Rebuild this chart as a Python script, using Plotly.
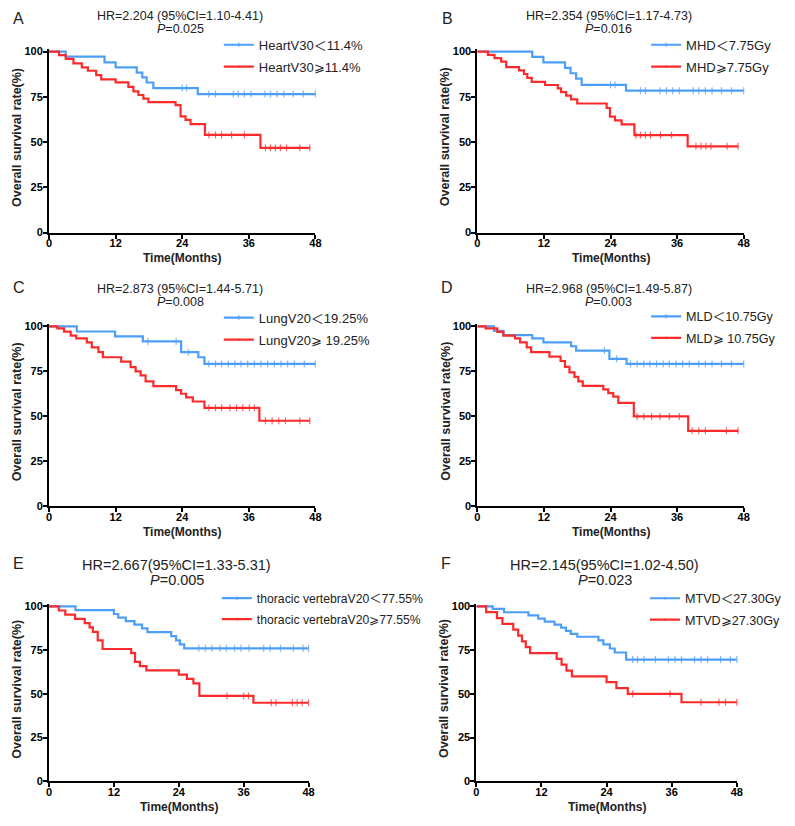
import plotly.graph_objects as go

# page body keeps an 8px margin, so the figure is shrunk to fit the 795x826 window
OFF = 8
W, H = 795 - 2 * OFF, 826 - 2 * OFF
BLUE = "#4d9ef7"
RED = "#fb2b2b"
FONT = "Liberation Sans, Arial, Noto Sans CJK SC, sans-serif"

# ---- data (months, survival %) ----
a_title = "HR=2.204 (95%CI=1.10-4.41)"
a_p = "0.025"
a_names = ["HeartV30＜11.4%", "HeartV30⩾11.4%"]
a_lo_t = [0, 3, 10, 12, 15.8, 16.8, 17.6, 18.8, 26.8]
a_lo_s = [100, 97.2, 94, 91.2, 88.4, 85.7, 82.9, 79.8, 76.5]
a_lo_c = [24, 24.8, 28.8, 30, 33.2, 34.1, 35.2, 36.4, 38.9, 39.9, 41.1, 42.3, 44, 45.8, 48]
a_hi_t = [0, 1.8, 3, 4.4, 5.9, 7, 8.5, 9.4, 12, 14.3, 15.2, 16.1, 17, 17.9, 22.8, 23.7, 24.6, 25.5, 28.1, 38.1]
a_hi_s = [100, 98, 96, 93.5, 91.3, 89.4, 87, 84.6, 83, 80.5, 78, 76, 74, 72, 70.4, 64.2, 62.2, 59.9, 53.9, 46.8]
a_hi_c = [28.8, 30, 31.1, 32.9, 35.2, 39, 39.9, 40.8, 41.7, 42.8, 45.2, 47]

b_title = "HR=2.354 (95%CI=1.17-4.73)"
b_p = "0.016"
b_names = ["MHD＜7.75Gy", "MHD⩾7.75Gy"]
b_lo_t = [0, 9.9, 11.9, 15.8, 16.8, 17.8, 18.8, 26.8]
b_lo_s = [100, 97, 94, 91, 88, 85, 81.6, 78.4]
b_lo_c = [24, 24.8, 29.4, 30.3, 32.9, 34.1, 35.2, 36.4, 38.9, 39.9, 41.1, 42.3, 44, 45.8, 48]
b_hi_t = [0, 1.9, 3.1, 4.3, 5.2, 7.5, 8.4, 9, 9.8, 12.2, 14.5, 15.1, 16, 16.9, 18, 23.3, 23.9, 24.8, 26, 28.3, 37.9]
b_hi_s = [100, 98.2, 96.4, 94.4, 91.4, 89.6, 87.6, 85.5, 83.2, 81.5, 79.6, 77.6, 75.6, 73.6, 71.3, 68.8, 64, 62, 59.8, 53.8, 47.6]
b_hi_c = [28.6, 29.4, 30.3, 31.2, 33, 35, 39.4, 40.3, 41.2, 42.1, 45, 47]

c_title = "HR=2.873 (95%CI=1.44-5.71)"
c_p = "0.008"
c_names = ["LungV20＜19.25%", "LungV20⩾ 19.25%"]
c_lo_t = [0, 5, 11.9, 16.9, 23.8, 26.9, 28]
c_lo_s = [100, 97.2, 94.5, 91.7, 85.7, 82.9, 79.2]
c_lo_c = [17.8, 22.9, 25.1, 28.8, 30, 31.1, 32.3, 33.5, 34.6, 35.8, 37, 38.2, 39.4, 40.6, 41.8, 43, 44.2, 46, 48]
c_hi_t = [0, 1.5, 2.7, 3.9, 4.9, 6.8, 7.7, 8.9, 9.7, 13, 14.7, 15.6, 16.5, 17.4, 18.8, 22.9, 23.8, 24.7, 25.9, 28, 37.9]
c_hi_s = [100, 98.9, 97.1, 94.9, 93.4, 91.2, 88.4, 85.7, 82.9, 80.5, 77.4, 75, 72.8, 69.5, 66.8, 64.6, 62.6, 60.6, 58.3, 54.8, 47.6]
c_hi_c = [28.8, 30, 31.1, 32.6, 33.8, 34.9, 36.1, 37, 39, 40.2, 41.4, 42.6, 45.2, 47]

d_title = "HR=2.968 (95%CI=1.49-5.87)"
d_p = "0.003"
d_names = ["MLD＜10.75Gy", "MLD⩾ 10.75Gy"]
d_lo_t = [0, 3, 4.7, 9.9, 11.9, 16.9, 17.8, 23.8, 26.9]
d_lo_s = [100, 97.6, 95.2, 93.4, 91.2, 89, 86.6, 82, 79.2]
d_lo_c = [22.9, 25.1, 27.6, 28.8, 30, 31.1, 32.3, 33.5, 34.6, 35.8, 37, 38.2, 39.9, 41.1, 42.3, 44, 45.8, 48]
d_hi_t = [0, 1.5, 3.6, 4.7, 6.8, 7.7, 8.9, 9.7, 13, 15, 15.8, 16.6, 17.5, 18.2, 19, 22.7, 23.6, 24.5, 25.4, 28.2, 38]
d_hi_s = [100, 98.9, 97, 94.9, 93.4, 91.2, 88.4, 85.7, 83.2, 80.8, 77.5, 74.5, 72, 69.5, 67, 65, 63, 61, 57.5, 50, 42]
d_hi_c = [28.8, 30, 31.4, 32.9, 34.6, 36.4, 38.7, 39.9, 41.1, 44.9, 47]

e_title = "HR=2.667(95%CI=1.33-5.31)"
e_p = "0.005"
e_names = ["thoracic vertebraV20＜77.55%", "thoracic vertebraV20⩾77.55%"]
e_lo_t = [0, 4.9, 12, 12.8, 14.2, 15.8, 17.2, 18.2, 22.6, 23.5, 24.2, 25]
e_lo_s = [100, 97.8, 95.6, 93.5, 91.5, 89.5, 87.4, 85.2, 83, 80.5, 78.2, 76]
e_lo_c = [27.7, 28.9, 30.1, 31.6, 32.8, 34.3, 35.5, 37, 39.7, 40.9, 42.8, 45.2, 47, 48]
e_hi_t = [0, 1.8, 3, 4.8, 6.6, 7.5, 8.1, 9, 9.9, 15.2, 15.9, 16.8, 18, 24, 25.5, 26.7, 27.8, 37.8]
e_hi_s = [100, 97.6, 95.2, 92.8, 90.4, 88, 85.4, 80.5, 75.6, 73.2, 68.3, 65.8, 63.4, 61, 58.5, 56, 48.8, 44.9]
e_hi_c = [32.9, 36, 36.9, 41.1, 42, 45, 45.9, 46.8, 48]

f_title = "HR=2.145(95%CI=1.02-4.50)"
f_p = "0.023"
f_names = ["MTVD＜27.30Gy", "MTVD⩾27.30Gy"]
f_lo_t = [0, 3, 5.1, 9.6, 11.4, 12.6, 14.4, 15.6, 16.5, 17.4, 18.6, 22.5, 23.4, 24.6, 25.5, 27.6]
f_lo_s = [100, 98.5, 96.6, 94.8, 93, 91.3, 89.5, 87.8, 86, 84.3, 82.6, 80.5, 78.2, 75.9, 73.6, 69.6]
f_lo_c = [28.8, 29.7, 30.9, 33, 35.4, 36.6, 37.8, 40.2, 41.4, 42.6, 45, 46.8, 48]
f_hi_t = [0, 1.8, 3.8, 4.8, 6.8, 7.7, 8.4, 9.1, 9.9, 14.8, 15.7, 16.6, 17.6, 24, 25.8, 27.9, 37.8]
f_hi_s = [100, 96.7, 93.3, 90, 86.7, 83.3, 80, 76.7, 73.3, 70, 66.7, 63.3, 60, 56.7, 53.3, 50, 45.2]
f_hi_c = [28.8, 35.7, 41.4, 44.7, 45.9, 48]

x_ticks = [0, 12, 24, 36, 48]
y_ticks = [0, 25, 50, 75, 100]

panels = [
    # letter, title, p, names, low, high, plot px (left, right, top100, bottom),
    # legend (text x, row1 y, font), title y, letter y, big
    ("A", a_title, a_p, a_names, (a_lo_t, a_lo_s, a_lo_c), (a_hi_t, a_hi_s, a_hi_c), (47, 320, 49, 232), (260, 44, 13), 12, 16, False),
    ("B", b_title, b_p, b_names, (b_lo_t, b_lo_s, b_lo_c), (b_hi_t, b_hi_s, b_hi_c), (486, 759, 49, 232), (698, 44, 13), 12, 16, False),
    ("C", c_title, c_p, c_names, (c_lo_t, c_lo_s, c_lo_c), (c_hi_t, c_hi_s, c_hi_c), (47, 320, 327, 509), (260, 320, 13), 288, 288, False),
    ("D", d_title, d_p, d_names, (d_lo_t, d_lo_s, d_lo_c), (d_hi_t, d_hi_s, d_hi_c), (486, 759, 327, 509), (698, 319, 12.6), 288, 288, False),
    ("E", e_title, e_p, e_names, (e_lo_t, e_lo_s, e_lo_c), (e_hi_t, e_hi_s, e_hi_c), (47, 313, 610, 787), (258, 604, 12.2), 567, 567, True),
    ("F", f_title, f_p, f_names, (f_lo_t, f_lo_s, f_lo_c), (f_hi_t, f_hi_s, f_hi_c), (485, 752, 610, 787), (697, 604, 12.6), 567, 567, True),
]


def fx(p):
    return (p - OFF) / W


def fy(p):
    return 1 - (p - OFF) / H


def km_points(t, s, cens):
    pts = {}
    for ti, si in zip(t, s):
        pts[ti] = (si, 0)
    for c in cens:
        lvl = [si for ti, si in zip(t, s) if ti <= c][-1]
        pts[c] = (lvl, 5)
    xs = sorted(pts)
    return xs, [pts[x][0] for x in xs], [pts[x][1] for x in xs]


fig = go.Figure()
annotations = []
YTOP = 101.5

for i, (letter, title, p, names, lo, hi, box, leg, ty, ly, big) in enumerate(panels):
    n = i + 1
    xa = "x" if n == 1 else f"x{n}"
    ya = "y" if n == 1 else f"y{n}"
    lg = "legend" if n == 1 else f"legend{n}"
    left, right, top, bottom = box
    top_ext = top - (bottom - top) * (YTOP - 100) / 100
    for grp, (t, s, c), color, name in [(0, lo, BLUE, names[0]), (1, hi, RED, names[1])]:
        xs, ys, sz = km_points(t, s, c)
        fig.add_trace(go.Scatter(
            x=xs, y=ys, mode="lines+markers", name=name, xaxis=xa, yaxis=ya,
            legend=lg, legendgroup=f"{letter}{grp}",
            line=dict(color=color, width=2.2, shape="hv"),
            marker=dict(symbol="line-ns", size=sz, color=color,
                        line=dict(color=color, width=1.2)),
            cliponaxis=False,
        ))
    axis_common = dict(
        showline=True, linecolor="black", linewidth=2, ticks="outside",
        ticklen=4, tickwidth=2, tickcolor="black", showgrid=False, zeroline=False,
        tickfont=dict(family=FONT, size=11, color="black", weight="bold"),
    )
    fig.update_layout({
        ("xaxis" if n == 1 else f"xaxis{n}"): dict(
            domain=[fx(left), fx(right)], range=[0, 48], tickvals=x_ticks,
            anchor=ya, ticklabelstandoff=-5, **axis_common),
        ("yaxis" if n == 1 else f"yaxis{n}"): dict(
            domain=[fy(bottom), fy(top_ext)], range=[0, YTOP], tickvals=y_ticks,
            anchor=xa, ticklabelstandoff=-2, **axis_common),
        lg: dict(x=fx(leg[0] - 39), y=fy(leg[1] - 17), xanchor="left", yanchor="top",
                 bgcolor="rgba(0,0,0,0)", tracegroupgap=2, itemwidth=30,
                 font=dict(family=FONT, size=leg[2], color="#222")),
    })
    cx = (left + right) / 2
    tsize = 14.5 if big else 12.5
    annotations += [
        dict(text=letter, x=fx(left - 31), y=fy(ly), font=dict(family=FONT, size=16, color="#222")),
        dict(text=title, x=fx(cx - 2), y=fy(ty + 1), font=dict(family=FONT, size=tsize, color="#222")),
        dict(text=f"<i>P</i>={p}", x=fx(cx - 2), y=fy(ty + (16 if big else 14)),
             font=dict(family=FONT, size=tsize, color="#222")),
        dict(text="Time(Months)", x=fx(cx), y=fy(bottom + 26),
             font=dict(family=FONT, size=12, color="#222", weight="bold")),
        dict(text="Overall survival rate(%)", x=fx(left - 33), y=fy((top + bottom) / 2 - 5),
             textangle=-90, font=dict(family=FONT, size=12.5, color="#222", weight="bold")),
    ]

for a in annotations:
    a.update(xref="paper", yref="paper", showarrow=False, xanchor="center", yanchor="middle")

fig.update_layout(
    width=W, height=H, margin=dict(l=0, r=0, t=0, b=0),
    paper_bgcolor="white", plot_bgcolor="white",
    annotations=annotations, font=dict(family=FONT),
)

fig.write_html("out.html")
